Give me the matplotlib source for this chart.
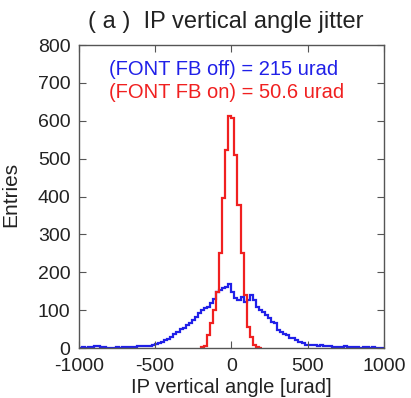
import numpy as np
import matplotlib
matplotlib.use("Agg")
import matplotlib.pyplot as plt

plt.rcParams['font.family'] = ['Liberation Sans', 'DejaVu Sans']
plt.rcParams['axes.unicode_minus'] = False

# Blue histogram: FONT FB off, 20 urad bins from -1000 to 1000
blue_edges = np.arange(-1000, 1001, 20)
blue_counts = [
    1, 2, 1, 2, 3,
    4, 4, 3, 2, 1,
    1, 1, 2, 1, 2,
    2, 2, 3, 3, 4,
    4, 5, 5, 6, 8,
    10, 12, 16, 21, 25,
    30, 38, 43, 50, 53,
    61, 66, 75, 83, 92,
    100, 105, 109, 118, 130,
    149, 153, 158, 162, 168,
    148, 132, 127, 135, 122,
    127, 140, 127, 109, 100,
    96, 87, 78, 69, 65,
    47, 43, 38, 34, 26,
    26, 22, 17, 12, 8,
    8, 7, 8, 6, 8,
    5, 4, 4, 3, 3,
    2, 3, 4, 2, 2,
    3, 2, 1, 2, 2,
    1, 2, 1, 1, 1,
]

# Red histogram: FONT FB on, 20 urad bins from -200 to 200
red_edges = np.arange(-200, 201, 20)
red_counts = [2, 6, 34, 66, 100, 148, 250, 396, 522, 613,
              608, 509, 377, 250, 140, 56, 30, 8, 3, 0]

xticks = [-1000, -500, 0, 500, 1000]
yticks = list(range(0, 801, 100))

fig = plt.figure(figsize=(4.11, 3.98), dpi=100)
ax = fig.add_axes([0.192, 0.1256, 0.742, 0.761])

ax.stairs(blue_counts, blue_edges, color='#2020e8', linewidth=1.6)
ax.stairs(red_counts, red_edges, color='#f02020', linewidth=1.6)

ax.set_xlim(-1000, 1000)
ax.set_ylim(0, 800)
ax.set_xticks(xticks)
ax.set_yticks(yticks)
ax.tick_params(direction='in', top=True, right=True, length=5, width=0.8,
               color='#555555', labelsize=14, labelcolor='#222222')
ax.tick_params(axis='x', pad=7)
ax.tick_params(axis='y', pad=6)
for s in ax.spines.values():
    s.set_color('#555555')
    s.set_linewidth(1.0)

ax.set_xlabel('IP vertical angle [urad]', fontsize=14.5, color='#222222')
ax.xaxis.set_label_coords(0.5, -0.100)
ax.set_ylabel('Entries', fontsize=15, color='#222222')
ax.yaxis.set_label_coords(-0.192, 0.508)
fig.text(0.549, 0.945, '( a )  IP vertical angle jitter', ha='center', va='center',
         fontsize=17, color='#222222')

ax.text(0.10, 0.921, '(FONT FB off) = 215 urad', transform=ax.transAxes,
        color='#2020e8', fontsize=14.5, ha='left', va='center')
ax.text(0.10, 0.842, '(FONT FB on) = 50.6 urad', transform=ax.transAxes,
        color='#f02020', fontsize=14.5, ha='left', va='center')

fig.savefig('out.png', dpi=100)
